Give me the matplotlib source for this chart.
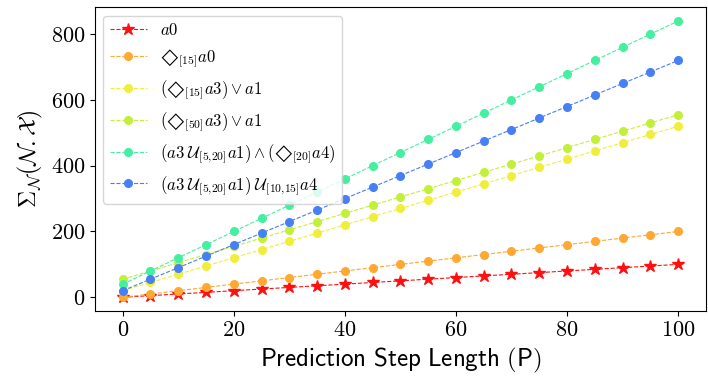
import matplotlib
matplotlib.use('Agg')
import matplotlib.pyplot as plt

plt.rcParams['mathtext.fontset'] = 'cm'
plt.rcParams['font.family'] = 'serif'
plt.rcParams['font.serif'] = ['cmr10', 'DejaVu Serif']
plt.rcParams['axes.formatter.use_mathtext'] = True

steps = [0, 5, 10, 15, 20, 25, 30, 35, 40, 45, 50, 55, 60, 65, 70, 75, 80, 85, 90, 95, 100]

a0 = [0, 5, 10, 15, 20, 25, 30, 35, 40, 45, 50, 55, 60, 65, 70, 75, 80, 85, 90, 95, 100]
ev15_a0 = [0, 10, 20, 30, 40, 50, 60, 70, 80, 90, 100, 110, 120, 130, 140, 150, 160, 170, 180, 190, 200]
ev15_a3_or_a1 = [20, 45, 70, 95, 120, 145, 170, 195, 220, 245, 270, 295, 320, 345, 370, 395, 420, 445, 470, 495, 520]
ev50_a3_or_a1 = [55, 80, 105, 130, 155, 180, 205, 230, 255, 280, 305, 330, 355, 380, 405, 430, 455, 480, 505, 530, 555]
until_and_ev = [40, 80, 120, 160, 200, 240, 280, 320, 360, 400, 440, 480, 520, 560, 600, 640, 680, 720, 760, 800, 840]
until_until = [20, 55, 90, 125, 160, 195, 230, 265, 300, 335, 370, 405, 440, 475, 510, 545, 580, 615, 650, 685, 720]

labels = [
    r'$a0$',
    r'$◇_{[15]}a0$',
    r'$(◇_{[15]}a3)\vee a1$',
    r'$(◇_{[50]}a3)\vee a1$',
    r'$(a3\;\mathcal{U}_{[5{,}20]}a1)\wedge(◇_{[20]}a4)$',
    r'$(a3\;\mathcal{U}_{[5{,}20]}a1)\;\mathcal{U}_{[10{,}15]}a4$',
]
series = [a0, ev15_a0, ev15_a3_or_a1, ev50_a3_or_a1, until_and_ev, until_until]
colors = ['#ff1010', '#ffa832', '#f0ee3c', '#c2f03a', '#44f0a0', '#4680f4']

fig = plt.figure(figsize=(7.08, 3.78), dpi=100)
ax = fig.add_axes([0.134, 0.177, 0.863, 0.804])

for i, (vals, lab, c) in enumerate(zip(series, labels, colors)):
    if i == 0:
        ax.plot(steps, vals, '--', color=c, lw=0.8, marker='*', markersize=9, label=lab)
    else:
        ax.plot(steps, vals, '--', color=c, lw=0.8, marker='o', markersize=5.5, label=lab)

ax.set_xticks([0, 20, 40, 60, 80, 100])
ax.set_yticks([0, 200, 400, 600, 800])
ax.tick_params(labelsize=16)
ax.set_xlabel(r'$\mathsf{Prediction\ Step\ Length\ (P)}$', fontsize=18)
ax.set_ylabel(r'$\Sigma_{\mathcal{N}}(\mathcal{N}.\mathcal{X})$', fontsize=17)
ax.legend(loc='upper left', fontsize=12, handlelength=2.2, labelspacing=0.55)

fig.savefig('out.png', dpi=100)
